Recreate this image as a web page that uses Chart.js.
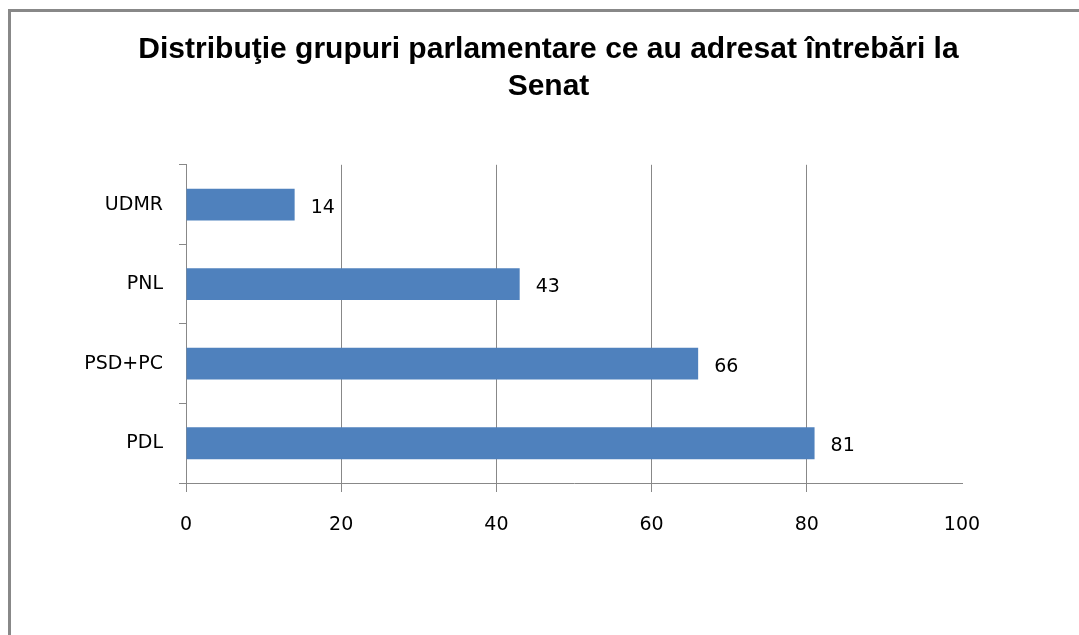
<!DOCTYPE html>
<html>
<head>
<meta charset="utf-8">
<script src="https://cdn.jsdelivr.net/npm/chart.js@4"></script>
<style>
  html, body { margin: 0; padding: 0; background: #fff; overflow: hidden; }
  #wrap { position: relative; width: 1079px; height: 635px; overflow: hidden; }
  #frame { position: absolute; left: 8px; top: 9px; width: 1200px; height: 800px; border: 3px solid #888; box-sizing: border-box; }
  canvas { position: absolute; left: 0; top: 0; }
</style>
</head>
<body>
<div id="wrap">
  <div id="frame"></div>
  <canvas id="c" width="1079" height="635"></canvas>
</div>
<script>
const categories = ['UDMR', 'PNL', 'PSD+PC', 'PDL'];
const values = [14, 43, 66, 81];
const xTicks = [0, 20, 40, 60, 80, 100];
const titleLines = ['Distribuţie grupuri parlamentare ce au adresat întrebări la', 'Senat'];

const gridColor = '#888888';
const tickFont = { family: 'DejaVu Sans', size: 19 };

const valueLabels = {
  id: 'valueLabels',
  afterDatasetsDraw(chart) {
    const ctx = chart.ctx;
    const meta = chart.getDatasetMeta(0);
    ctx.save();
    ctx.font = '19px "DejaVu Sans"';
    ctx.fillStyle = '#000';
    ctx.textAlign = 'left';
    ctx.textBaseline = 'middle';
    meta.data.forEach((bar, i) => {
      ctx.fillText(String(values[i]), bar.x + 16, bar.y + 3);
    });
    ctx.restore();
  }
};

new Chart(document.getElementById('c'), {
  type: 'bar',
  data: {
    labels: categories,
    datasets: [{
      data: values,
      backgroundColor: '#4F81BD',
      borderWidth: 0,
      barPercentage: 0.8,
      categoryPercentage: 0.5
    }]
  },
  options: {
    indexAxis: 'y',
    responsive: false,
    animation: false,
    layout: { padding: { left: 18, right: 0, top: 0, bottom: 0 } },
    plugins: {
      legend: { display: false },
      tooltip: { enabled: false },
      title: {
        display: true,
        text: titleLines,
        color: '#000',
        font: { family: 'Liberation Sans', size: 30, weight: 'bold', lineHeight: 1.23 },
        padding: { top: 31, bottom: 60 }
      }
    },
    scales: {
      x: {
        type: 'linear',
        min: 0,
        max: 100,
        afterBuildTicks(scale) { scale.ticks = xTicks.map(v => ({ value: v })); },
        afterFit(scale) { scale.height = 152; },
        grid: {
          color: (c) => (c.tick && c.tick.value === 100) ? 'rgba(0,0,0,0)' : gridColor,
          lineWidth: 1,
          tickLength: 9,
          drawTicks: true
        },
        border: { display: true, color: gridColor, width: 1 },
        ticks: { color: '#000', font: tickFont, padding: 22 }
      },
      y: {
        type: 'category',
        afterFit(scale) { scale.width = 168; },
        grid: {
          drawOnChartArea: false,
          drawTicks: true,
          tickLength: 7,
          color: gridColor,
          offset: true
        },
        border: { display: true, color: gridColor, width: 1 },
        ticks: { color: '#000', font: tickFont, padding: 16 }
      },
      spacer: {
        type: 'linear',
        position: 'right',
        display: true,
        afterFit(scale) { scale.width = 117; },
        grid: { display: false, drawTicks: false },
        border: { display: false },
        ticks: { display: false }
      }
    }
  },
  plugins: [valueLabels]
});
</script>
</body>
</html>
